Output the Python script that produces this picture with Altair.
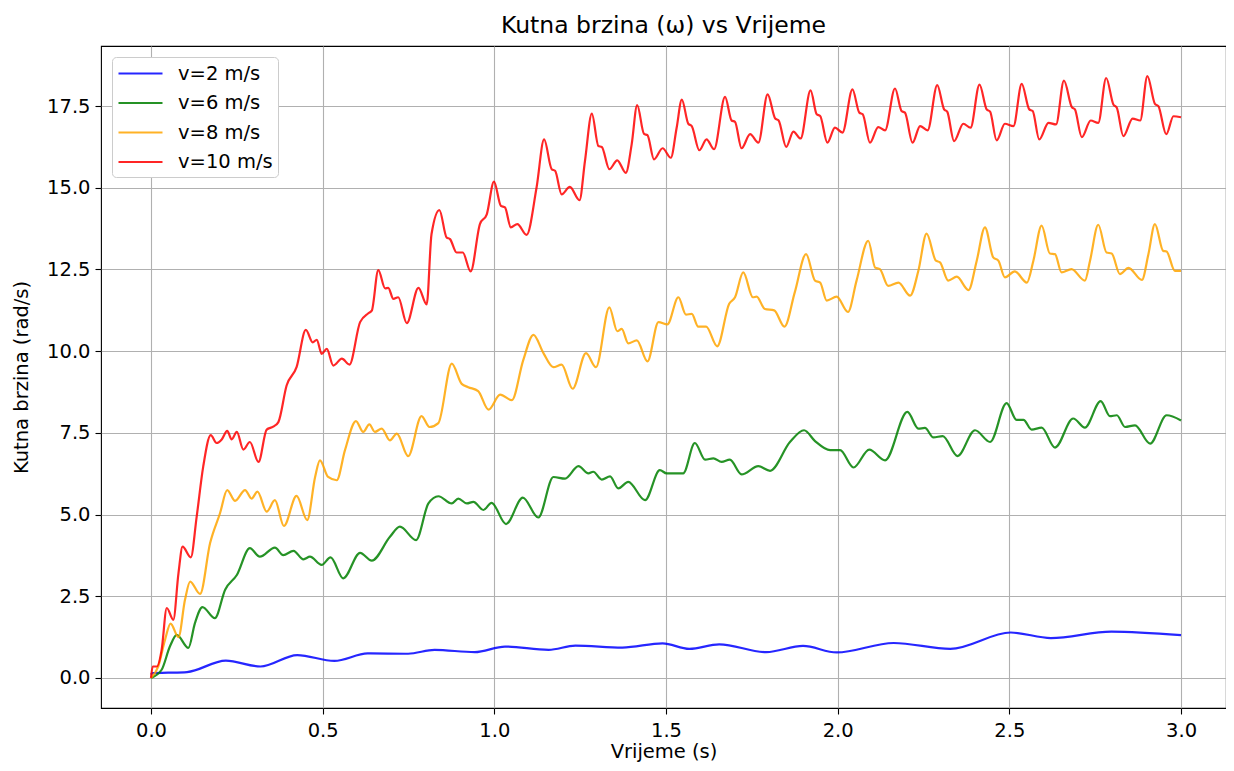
import altair as alt
import pandas as pd

# ---- data ----
series_labels = ["v=2 m/s", "v=6 m/s", "v=8 m/s", "v=10 m/s"]
series_colors = ["#0000ff", "#008000", "#ffa500", "#ff0000"]

x_ticks = [0.0, 0.5, 1.0, 1.5, 2.0, 2.5, 3.0]
y_ticks = [0.0, 2.5, 5.0, 7.5, 10.0, 12.5, 15.0, 17.5]

t_v2 = [0, 0.005, 0.05, 0.105, 0.218, 0.319, 0.426, 0.534, 0.631, 0.749,
        0.826, 0.943, 1.031, 1.158, 1.236, 1.373, 1.49, 1.568, 1.655, 1.792,
        1.899, 1.997, 2.163, 2.328, 2.504, 2.621, 2.797, 3.0]
w_v2 = [0.1, 0.15, 0.16, 0.18, 0.53, 0.35, 0.70, 0.52, 0.75, 0.74,
        0.86, 0.79, 0.96, 0.86, 0.99, 0.93, 1.06, 0.89, 1.03, 0.79,
        0.98, 0.78, 1.07, 0.89, 1.39, 1.22, 1.42, 1.31]

t_v6 = [0, 0.031, 0.055, 0.075, 0.109, 0.128, 0.15, 0.186, 0.216, 0.25,
        0.288, 0.317, 0.361, 0.385, 0.415, 0.444, 0.463, 0.497, 0.523, 0.56,
        0.609, 0.643, 0.696, 0.725, 0.772, 0.808, 0.837, 0.876, 0.895, 0.92,
        0.939, 0.968, 0.992, 1.034, 1.083, 1.128, 1.172, 1.206, 1.245, 1.274,
        1.288, 1.313, 1.337, 1.361, 1.39, 1.439, 1.482, 1.502, 1.55, 1.584,
        1.614, 1.638, 1.662, 1.686, 1.72, 1.769, 1.803, 1.861, 1.902, 1.934,
        1.978, 2.007, 2.046, 2.092, 2.138, 2.203, 2.235, 2.254, 2.279, 2.306,
        2.349, 2.4, 2.444, 2.492, 2.521, 2.541, 2.565, 2.594, 2.633, 2.686,
        2.72, 2.766, 2.793, 2.813, 2.837, 2.866, 2.91, 2.958, 3.0]
w_v6 = [0, 0.25, 0.96, 1.32, 0.92, 1.68, 2.17, 1.83, 2.7, 3.15,
        3.97, 3.71, 3.99, 3.76, 3.89, 3.63, 3.71, 3.46, 3.69, 3.05,
        3.83, 3.59, 4.32, 4.63, 4.22, 5.34, 5.56, 5.34, 5.49, 5.34,
        5.39, 5.14, 5.36, 4.71, 5.52, 4.91, 6.15, 6.1, 6.48, 6.26,
        6.31, 6.07, 6.17, 5.8, 6.0, 5.44, 6.36, 6.26, 6.26, 7.19,
        6.68, 6.72, 6.61, 6.68, 6.23, 6.48, 6.34, 7.22, 7.58, 7.25,
        6.97, 6.97, 6.44, 6.99, 6.66, 8.14, 7.63, 7.65, 7.36, 7.4,
        6.79, 7.58, 7.22, 8.41, 7.9, 7.9, 7.6, 7.66, 7.05, 7.94,
        7.66, 8.47, 8.01, 8.04, 7.68, 7.73, 7.17, 8.04, 7.88]

t_v8 = [0, 0.021, 0.041, 0.057, 0.08, 0.099, 0.114, 0.143, 0.172, 0.201,
        0.222, 0.245, 0.274, 0.293, 0.31, 0.337, 0.361, 0.387, 0.424, 0.455,
        0.478, 0.492, 0.516, 0.541, 0.565, 0.597, 0.618, 0.636, 0.652, 0.672,
        0.696, 0.716, 0.749, 0.788, 0.811, 0.837, 0.876, 0.905, 0.924, 0.953,
        0.983, 1.017, 1.051, 1.084, 1.114, 1.143, 1.172, 1.196, 1.228, 1.267,
        1.296, 1.335, 1.358, 1.371, 1.39, 1.415, 1.446, 1.478, 1.504, 1.536,
        1.558, 1.575, 1.594, 1.617, 1.649, 1.684, 1.701, 1.725, 1.753, 1.764,
        1.788, 1.815, 1.845, 1.875, 1.908, 1.934, 1.949, 1.968, 1.997, 2.03,
        2.055, 2.089, 2.109, 2.123, 2.147, 2.177, 2.211, 2.235, 2.259, 2.286,
        2.298, 2.322, 2.347, 2.381, 2.405, 2.429, 2.453, 2.468, 2.487, 2.516,
        2.551, 2.57, 2.594, 2.618, 2.633, 2.652, 2.681, 2.72, 2.735, 2.759,
        2.783, 2.798, 2.822, 2.847, 2.886, 2.905, 2.924, 2.948, 2.958, 2.982,
        3.0]
w_v8 = [0, 0.35, 1.17, 1.66, 1.25, 2.39, 2.95, 2.57, 4.12, 5.04,
        5.75, 5.42, 5.75, 5.49, 5.7, 5.09, 5.44, 4.65, 5.57, 4.83,
        6.15, 6.66, 6.15, 6.05, 6.97, 7.86, 7.53, 7.76, 7.53, 7.63,
        7.27, 7.48, 6.79, 8.01, 7.68, 7.8, 9.62, 9.0, 8.9, 8.78,
        8.21, 8.67, 8.5, 9.72, 10.5, 9.94, 9.51, 9.59, 8.85, 9.94,
        9.51, 11.34, 10.61, 10.68, 10.24, 10.33, 9.69, 10.89, 10.82, 11.65,
        11.12, 11.14, 10.75, 10.75, 10.15, 11.45, 11.65, 12.41, 11.65, 11.67,
        11.29, 11.25, 10.75, 11.8, 12.97, 12.16, 12.1, 11.55, 11.67, 11.2,
        12.16, 13.38, 12.56, 12.51, 12.0, 12.1, 11.7, 12.46, 13.6, 12.77,
        12.72, 12.16, 12.28, 11.87, 12.77, 13.79, 12.87, 12.77, 12.26, 12.44,
        12.1, 12.77, 13.84, 12.99, 12.97, 12.41, 12.51, 12.16, 12.77, 13.87,
        13.02, 12.99, 12.36, 12.55, 12.18, 12.97, 13.89, 13.07, 13.05, 12.46,
        12.46]

t_v10 = [0, 0.005, 0.017, 0.031, 0.046, 0.065, 0.08, 0.092, 0.116, 0.133,
         0.152, 0.174, 0.191, 0.206, 0.222, 0.235, 0.25, 0.269, 0.288, 0.313,
         0.337, 0.356, 0.371, 0.395, 0.424, 0.451, 0.471, 0.483, 0.497, 0.512,
         0.531, 0.556, 0.578, 0.609, 0.633, 0.643, 0.662, 0.682, 0.691, 0.706,
         0.72, 0.745, 0.779, 0.803, 0.817, 0.84, 0.861, 0.871, 0.89, 0.908,
         0.931, 0.958, 0.978, 0.999, 1.019, 1.031, 1.048, 1.067, 1.094, 1.123,
         1.145, 1.167, 1.177, 1.196, 1.22, 1.248, 1.264, 1.284, 1.303, 1.313,
         1.335, 1.358, 1.383, 1.4, 1.416, 1.436, 1.446, 1.465, 1.49, 1.514,
         1.531, 1.546, 1.565, 1.575, 1.597, 1.618, 1.64, 1.672, 1.691, 1.701,
         1.72, 1.745, 1.769, 1.796, 1.818, 1.828, 1.85, 1.871, 1.892, 1.921,
         1.939, 1.949, 1.97, 1.992, 2.014, 2.043, 2.063, 2.073, 2.094, 2.118,
         2.138, 2.167, 2.186, 2.196, 2.218, 2.24, 2.262, 2.29, 2.31, 2.319,
         2.339, 2.366, 2.387, 2.413, 2.434, 2.444, 2.463, 2.487, 2.512, 2.536,
         2.558, 2.568, 2.587, 2.614, 2.636, 2.659, 2.682, 2.691, 2.711, 2.737,
         2.759, 2.782, 2.803, 2.813, 2.832, 2.859, 2.881, 2.902, 2.924, 2.934,
         2.957, 2.978, 3.0]
w_v10 = [0, 0.35, 0.35, 0.86, 2.14, 1.78, 3.2, 4.02, 3.69, 4.93,
         6.46, 7.43, 7.19, 7.3, 7.56, 7.3, 7.53, 6.99, 7.22, 6.61,
         7.6, 7.69, 7.83, 8.95, 9.51, 10.65, 10.27, 10.35, 9.92, 10.07,
         9.56, 9.77, 9.59, 10.89, 11.16, 11.24, 12.48, 11.92, 11.94, 11.6,
         11.65, 10.86, 11.94, 11.43, 13.58, 14.32, 13.48, 13.43, 13.02, 13.02,
         12.44, 13.89, 14.19, 15.19, 14.45, 14.4, 13.79, 13.89, 13.56, 15.01,
         16.48, 15.57, 15.52, 14.8, 15.03, 14.62, 15.82, 17.27, 16.28, 16.25,
         15.57, 15.84, 15.46, 16.33, 17.53, 16.65, 16.61, 15.87, 16.21, 15.92,
         16.84, 17.7, 16.96, 16.89, 16.15, 16.48, 16.18, 17.78, 17.06, 17.02,
         16.21, 16.64, 16.38, 17.86, 17.12, 17.06, 16.25, 16.72, 16.51, 17.98,
         17.25, 17.2, 16.38, 16.84, 16.69, 18.01, 17.3, 17.25, 16.38, 16.86,
         16.76, 18.04, 17.35, 17.3, 16.38, 16.89, 16.76, 18.14, 17.4, 17.33,
         16.43, 16.96, 16.84, 18.16, 17.4, 17.33, 16.45, 16.96, 16.89, 18.18,
         17.4, 17.35, 16.48, 16.99, 16.94, 18.28, 17.47, 17.4, 16.55, 17.06,
         16.99, 18.36, 17.55, 17.45, 16.58, 17.12, 17.06, 18.42, 17.57, 17.5,
         16.64, 17.19, 17.16]

series_t = [t_v2, t_v6, t_v8, t_v10]
series_w = [w_v2, w_v6, w_v8, w_v10]

FONT = "DejaVu Sans"

color_enc = alt.Color(
    "series:N",
    scale=alt.Scale(domain=series_labels, range=series_colors),
    legend=alt.Legend(
        title=None,
        orient="none",
        legendX=11,
        legendY=11,
        symbolType="M-1,0H3.4",
        symbolSize=400,
        symbolStrokeWidth=2.2,
        symbolOpacity=0.85,
        labelFont=FONT,
        labelFontSize=19.5,
        labelColor="black",
        labelOffset=38,
        rowPadding=8.5,
        padding=5,
        fillColor="white",
        strokeColor="#cccccc",
        cornerRadius=4,
    ),
)

x_enc = alt.X(
    "t:Q",
    scale=alt.Scale(domain=[-0.1456, 3.131], nice=False, zero=False),
    axis=alt.Axis(values=x_ticks, format=".1f", title="Vrijeme (s)",
                  titlePadding=3, labelPadding=7),
)
y_enc = alt.Y(
    "w:Q",
    scale=alt.Scale(domain=[-0.92, 19.34], nice=False, zero=False),
    axis=alt.Axis(values=y_ticks, format=".1f", title="Kutna brzina (rad/s)",
                  titlePadding=15, labelPadding=5),
)

layers = []
for label, ts, ws in zip(series_labels, series_t, series_w):
    d = pd.DataFrame({"t": ts, "w": ws, "series": label})
    layers.append(
        alt.Chart(d)
        .mark_line(strokeWidth=2.2, interpolate="monotone", opacity=0.85)
        .encode(x=x_enc, y=y_enc, color=color_enc)
    )

chart = (
    alt.layer(*layers)
    .properties(
        width=1125,
        height=662,
        title=alt.TitleParams("Kutna brzina (ω) vs Vrijeme", font=FONT,
                              fontSize=23.5, fontWeight="normal", color="black",
                              anchor="middle", offset=9),
        autosize=alt.AutoSizeParams(type="none"),
        padding={"left": 93, "top": 38, "right": 0, "bottom": 55},
    )
    .configure_view(stroke="black", strokeWidth=1.1)
    .configure_axis(
        domain=False,
        grid=True,
        gridColor="#b0b0b0",
        gridWidth=1.1,
        tickColor="black",
        tickSize=6,
        tickWidth=1.1,
        labelFont=FONT,
        labelFontSize=19.5,
        labelColor="black",
        titleFont=FONT,
        titleFontSize=19.5,
        titleFontWeight="normal",
        titleColor="black",
    )
)

chart.save("out.html", embed_options={"renderer": "svg", "actions": False})
